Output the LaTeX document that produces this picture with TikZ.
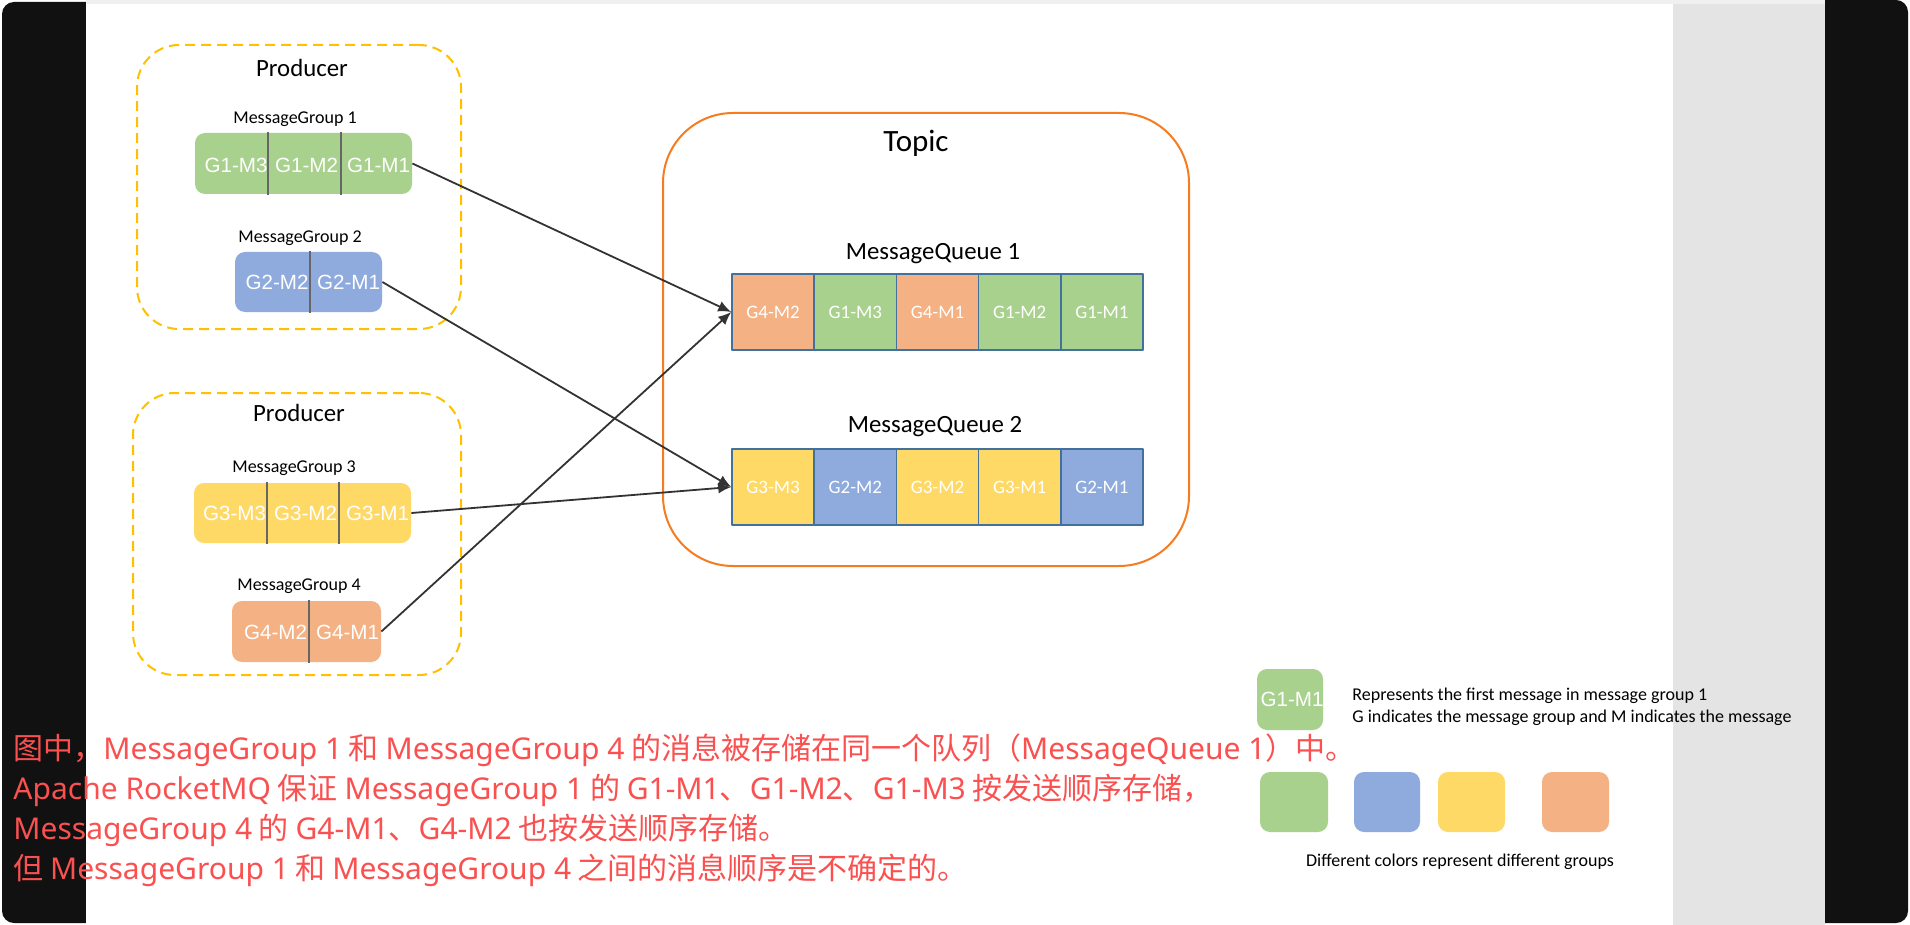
\documentclass[tikz,border=0pt]{standalone}
\usepackage{fontspec}
\setmainfont{Carlito}
\newfontfamily\arialfont{Liberation Sans}
\newfontfamily\cjkfont{Noto Sans CJK SC}
\newfontfamily\notelatin{Noto Sans}
\newcommand\ltn[1]{{\notelatin #1}}
\usetikzlibrary{arrows,arrows.meta,shapes}

\definecolor{grpgreen}{HTML}{A9D18E}
\definecolor{grpblue}{HTML}{8FAADC}
\definecolor{grpyellow}{HTML}{FFD966}
\definecolor{grporange}{HTML}{F4B183}
\definecolor{qborder}{HTML}{41719C}
\definecolor{prodcol}{HTML}{FFC000}
\definecolor{topiccol}{HTML}{F57C20}
\definecolor{notecol}{HTML}{FA5050}
\definecolor{panelcol}{HTML}{111111}
\definecolor{bandcol}{HTML}{E4E4E4}
\definecolor{arrowcol}{HTML}{333333}
\definecolor{divcol}{HTML}{666666}

\tikzset{
  producer/.style={draw=prodcol,line width=1pt,dash pattern=on 5pt off 3pt,rounded corners=21pt},
  topicbox/.style={draw=topiccol,line width=1pt,rounded corners=35pt},
  title/.style={font=\fontsize{12.4}{14}\selectfont},
  grplabel/.style={font=\fontsize{9}{11}\selectfont},
  bar/.style={rounded corners=5pt,inner sep=0pt},
  msg/.style={text=white,font=\arialfont\fontsize{10.3}{12}\selectfont,inner sep=0pt},
  cell/.style={draw=qborder,line width=0.75pt,minimum width=41.1pt,minimum height=38pt,inner sep=0pt,text=white,font=\fontsize{9.5}{11}\selectfont},
  divider/.style={draw=divcol,line width=0.75pt},
  flow/.style={->,draw=arrowcol,line width=0.9pt},
}

\begin{document}
\begin{tikzpicture}[x=0.5pt,y=-0.5pt,>={Latex[length=6.5pt,width=5.5pt]},line join=bevel]
	%% screen frame
	\useasboundingbox (0,0) rectangle (1910,925);
	\fill[white] (0,0) rectangle (1910,925);
	\fill[panelcol,rounded corners=6pt] (2,2) rectangle (140,923);
	\fill[panelcol,rounded corners=6pt] (1770,0) rectangle (1908,923);
	\fill[bandcol] (1673,0) rectangle (1825,925);
	\fill[white] (86,4) rectangle (1673,925);
	\fill[gray!12] (86,0) rectangle (1825,4);
	%%
	\node (prod1) at (299,187) [producer,minimum width=162pt,minimum height=142pt] {};
	  \node (prod1t) at (302,68) [title] {Producer};
	  \node (mg1) at (295,119) [grplabel] {MessageGroup 1};
	  \node (g1bar) at (303.5,163.5) [bar,fill=grpgreen,minimum width=108.5pt,minimum height=30.5pt] {};
	  \draw [divider] (268,132) -- (268,195);
	  \draw [divider] (341,132) -- (341,195);
	  \node (g1m3) at (236,165) [msg] {G1-M3};
	  \node (g1m2) at (306.5,165) [msg] {G1-M2};
	  \node (g1m1) at (378.5,165) [msg] {G1-M1};
	  \node (mg2) at (300,238) [grplabel] {MessageGroup 2};
	  \node (g2bar) at (308.5,282) [bar,fill=grpblue,minimum width=73.5pt,minimum height=30pt] {};
	  \draw [divider] (310,251) -- (310,313);
	  \node (g2m2) at (277,282) [msg] {G2-M2};
	  \node (g2m1) at (348.5,282) [msg] {G2-M1};
	%%
	\node (prod2) at (297,534) [producer,minimum width=164pt,minimum height=141pt] {};
	  \node (prod2t) at (299,413) [title] {Producer};
	  \node (mg3) at (294,468) [grplabel] {MessageGroup 3};
	  \node (g3bar) at (302.5,513) [bar,fill=grpyellow,minimum width=108.5pt,minimum height=30pt] {};
	  \draw [divider] (267,482) -- (267,544);
	  \draw [divider] (339,482) -- (339,544);
	  \node (g3m3) at (234.5,513) [msg] {G3-M3};
	  \node (g3m2) at (305.5,513) [msg] {G3-M2};
	  \node (g3m1) at (377.5,513) [msg] {G3-M1};
	  \node (mg4) at (299,586) [grplabel] {MessageGroup 4};
	  \node (g4bar) at (306.5,631.5) [bar,fill=grporange,minimum width=74.5pt,minimum height=30.5pt] {};
	  \draw [divider] (309,600) -- (309,663);
	  \node (g4m2) at (275.5,632) [msg] {G4-M2};
	  \node (g4m1) at (347.5,632) [msg] {G4-M1};
	%%
	\node (topic) at (926,339.5) [topicbox,minimum width=263pt,minimum height=226.5pt] {};
	  \node (topict) at (916,143) [font=\fontsize{15.5}{18}\selectfont] {Topic};
	  \node (mq1) at (933,254) [title] {MessageQueue 1};
	  \node (q1c1) at (773.1,312) [cell,fill=grporange] {G4-M2};
	  \node (q1c2) at (855.3,312) [cell,fill=grpgreen] {G1-M3};
	  \node (q1c3) at (937.5,312) [cell,fill=grporange] {G4-M1};
	  \node (q1c4) at (1019.7,312) [cell,fill=grpgreen] {G1-M2};
	  \node (q1c5) at (1101.9,312) [cell,fill=grpgreen] {G1-M1};
	  \node (mq2) at (935,427) [title] {MessageQueue 2};
	  \node (q2c1) at (773.1,487) [cell,fill=grpyellow] {G3-M3};
	  \node (q2c2) at (855.3,487) [cell,fill=grpblue] {G2-M2};
	  \node (q2c3) at (937.5,487) [cell,fill=grpyellow] {G3-M2};
	  \node (q2c4) at (1019.7,487) [cell,fill=grpyellow] {G3-M1};
	  \node (q2c5) at (1101.9,487) [cell,fill=grpblue] {G2-M1};
	%%
	\draw [flow] (g1bar.east) -- (q1c1.west);
	\draw [flow] (g2bar.east) -- (q2c1.west);
	\draw [flow] (g3bar.east) -- (q2c1.west);
	\draw [flow] (g4bar.east) -- (q1c1.west);
	%% legend
	\node (key) at (1290,699.5) [bar,fill=grpgreen,minimum width=33pt,minimum height=30.5pt] {};
	\node (keym) at (1292,699) [msg] {G1-M1};
	\node (keytext) at (1352,707) [anchor=west,align=left,inner sep=0pt,font=\fontsize{9}{11}\selectfont] {Represents the first message in message group 1\\G indicates the message group and M indicates the message};
	\node (kgreen) at (1294,802) [bar,fill=grpgreen,minimum width=34pt,minimum height=30pt] {};
	\node (kblue) at (1387,802) [bar,fill=grpblue,minimum width=33pt,minimum height=30pt] {};
	\node (kyellow) at (1471.5,802) [bar,fill=grpyellow,minimum width=33.5pt,minimum height=30pt] {};
	\node (korange) at (1575.5,802) [bar,fill=grporange,minimum width=33.5pt,minimum height=30pt] {};
	\node (keycolor) at (1460,862) [grplabel] {Different colors represent different groups};
	%% note
	\node (note) at (13,733) [anchor=north west,align=left,inner sep=0pt,text=notecol,font=\cjkfont\fontsize{15}{20}\selectfont] {图中，\ltn{MessageGroup 1} 和 \ltn{MessageGroup 4} 的消息被存储在同一个队列（\ltn{MessageQueue 1}）中。\\\ltn{Apache RocketMQ} 保证 \ltn{MessageGroup 1} 的 \ltn{G1-M1}、\ltn{G1-M2}、\ltn{G1-M3} 按发送顺序存储，\\\ltn{MessageGroup 4} 的 \ltn{G4-M1}、\ltn{G4-M2} 也按发送顺序存储。\\但 \ltn{MessageGroup 1} 和 \ltn{MessageGroup 4} 之间的消息顺序是不确定的。};
	%
\end{tikzpicture}
\end{document}
